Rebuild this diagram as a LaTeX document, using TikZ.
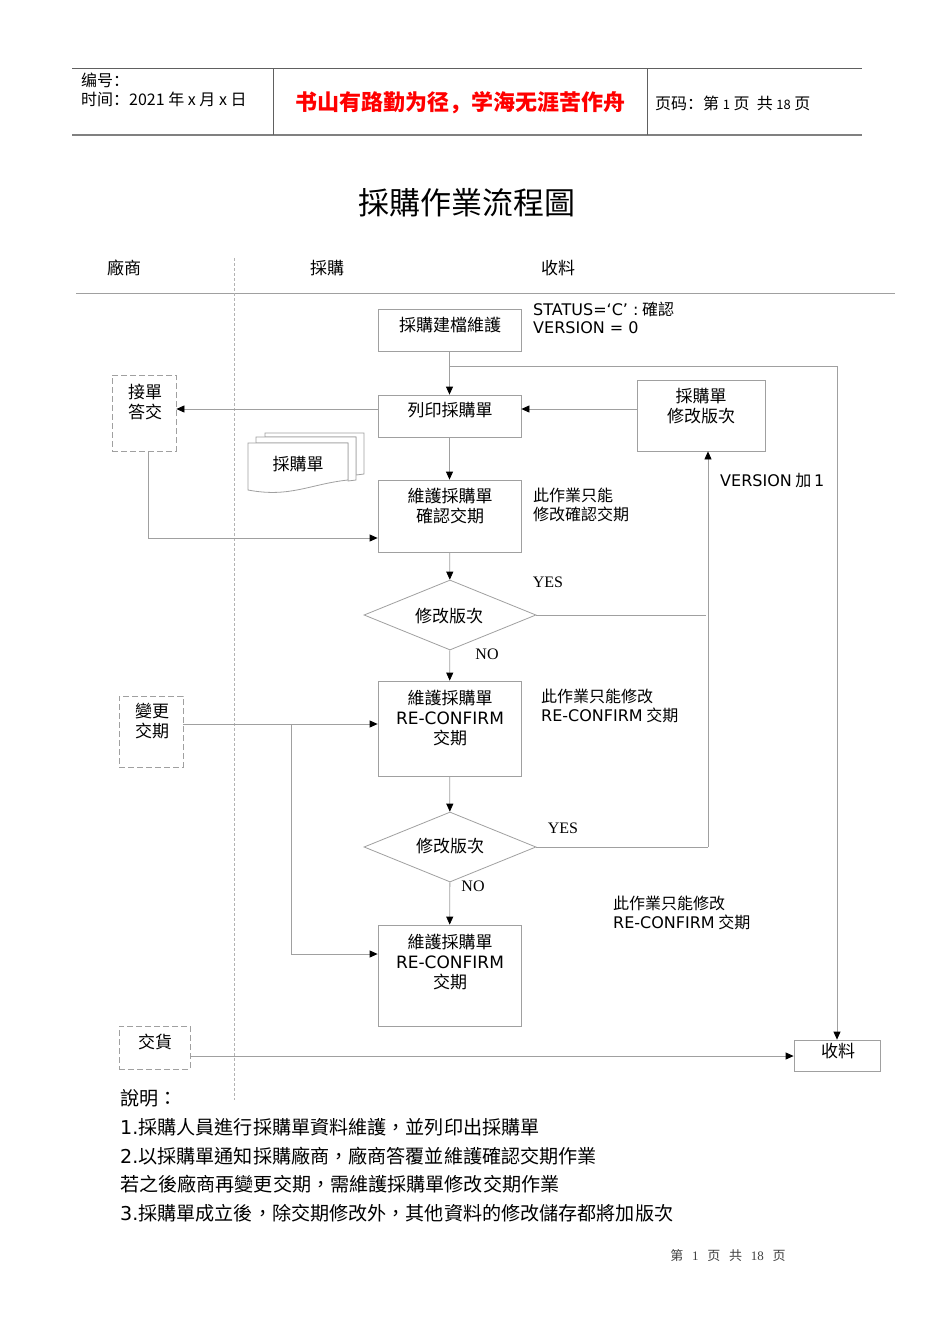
\documentclass[tikz,border=0pt]{standalone}
\usepackage{fontspec}
\setmainfont{Noto Sans CJK TC}
\newfontfamily\dv{DejaVu Sans}
\newfontfamily\scfont{Noto Sans CJK SC}
\newfontfamily\timesf{Liberation Serif}
\usetikzlibrary{arrows.meta,shapes.geometric}
\definecolor{ln}{HTML}{A0A0A0}
\definecolor{hd}{HTML}{606060}
\begin{document}
\begin{tikzpicture}[x=1pt,y=-1pt,
  box/.style={draw=ln,line width=0.8pt,rectangle,inner sep=0pt},
  dbox/.style={box,dashed,dash pattern=on 6pt off 3pt},
  dia/.style={draw=ln,line width=0.8pt,diamond,inner sep=0pt,minimum width=172pt,minimum height=70pt},
  conn/.style={draw=ln,line width=0.8pt},
  arr/.style={conn,-{Triangle[length=8pt,width=7pt,color=black,fill=black]}},
  tx/.style={font=\fontsize{17}{20}\selectfont,align=center,inner sep=0pt},
  nt/.style={font=\fontsize{16}{18.5}\selectfont,align=left,inner sep=0pt,anchor=west},
  yn/.style={font=\timesf\fontsize{16}{18}\selectfont,inner sep=0pt},
  ex/.style={font=\fontsize{19.1}{21}\selectfont,inner sep=0pt,anchor=west}]
\useasboundingbox[fill=white] (0,0) rectangle (950,1344);
% header
\draw[hd,line width=0.8pt] (72,68) -- (862,68);
\draw[hd!80,line width=1.6pt] (72,135) -- (862,135);
\draw[hd,line width=0.8pt] (273,68) -- (273,135);
\draw[hd,line width=0.8pt] (647,68) -- (647,135);
\node[font=\scfont\fontsize{16}{18}\selectfont,anchor=west,inner sep=0pt] (h1) at (81,80) {编号：};
\node[font=\scfont\fontsize{16}{18}\selectfont,anchor=west,inner sep=0pt] (h2) at (81,99) {时间：2021 年 x 月 x 日};
\node[font=\scfont\bfseries\fontsize{22}{24}\selectfont,text=red,inner sep=0pt] (h3) at (460,103) {书山有路勤为径，学海无涯苦作舟};
\node[font=\scfont\fontsize{16}{18}\selectfont,anchor=west,inner sep=0pt] (h4) at (655,103) {页码：第 {\fontsize{13}{15}\selectfont 1} 页\ \ 共 {\fontsize{13}{15}\selectfont 18} 页};
% title
\node[font=\fontsize{31}{34}\selectfont,inner sep=0pt] (title) at (467,203) {採購作業流程圖};
% lanes
\node[tx] (l1) at (124,268) {廠商};
\node[tx] (l2) at (327,268) {採購};
\node[tx] (l3) at (558,268) {收料};
\draw[conn] (76,293) -- (895,293);
\draw[ln!80,line width=0.6pt,dash pattern=on 3pt off 2pt] (234,258) -- (234,1100);
% boxes
\node[box,minimum width=143pt,minimum height=42pt] (b1) at (449.5,330) {};
\node[tx] (b1t) at (450,325) {採購建檔維護};
\node[box,minimum width=143pt,minimum height=42pt] (b2) at (449.5,416) {};
\node[tx] (b2t) at (450,410) {列印採購單};
\node[box,minimum width=143pt,minimum height=72pt] (b3) at (449.5,516) {};
\node[tx] (b3t) at (450,506) {維護採購單\\確認交期};
\node[dia] (d1) at (450,615) {};
\node[tx] (d1t) at (449,616) {修改版次};
\node[box,minimum width=143pt,minimum height=95pt] (b4) at (449.5,728.5) {};
\node[tx] (b4t) at (450,718) {維護採購單\\{\dv RE-CONFIRM}\\交期};
\node[dia] (d2) at (450,847) {};
\node[tx] (d2t) at (450,846) {修改版次};
\node[box,minimum width=143pt,minimum height=101pt] (b5) at (449.5,975.5) {};
\node[tx] (b5t) at (450,962) {維護採購單\\{\dv RE-CONFIRM}\\交期};
\node[dbox,minimum width=64pt,minimum height=76pt] (jd) at (144,413) {};
\node[tx] (jdt) at (145,402) {接單\\答交};
\node[dbox,minimum width=64pt,minimum height=71pt] (bg) at (151,731.5) {};
\node[tx] (bgt) at (152,721) {變更\\交期};
\node[dbox,minimum width=71pt,minimum height=43pt] (jh) at (154.5,1047.5) {};
\node[tx] (jht) at (155,1042) {交貨};
\node[box,minimum width=86pt,minimum height=31pt] (sl) at (837,1055.5) {};
\node[tx] (slt) at (838,1051) {收料};
\node[box,minimum width=128pt,minimum height=71pt] (xg) at (701,415.5) {};
\node[tx] (xgt) at (701,406) {採購單\\修改版次};
% document shape
\draw[ln,line width=0.8pt,fill=white] (265,433) -- (364,433) -- (364,474) -- (356,475) -- (356,437) -- (265,437) -- cycle;
\draw[ln,line width=0.8pt,fill=white] (256,437) -- (356,437) -- (356,480) -- (348,481) -- (348,443) -- (256,443) -- cycle;
\draw[ln,line width=0.8pt,fill=white] (248,443) -- (348,443) -- (348,480) .. controls (310,484) and (290,498) .. (248,490) -- cycle;
\node[tx] (doc) at (298,464) {採購單};
% notes
\node[nt] (n1) at (533,318) {{\dv STATUS=‘C’ :} 確認\\{\dv VERSION = 0}};
\node[nt] (n2) at (533,505) {此作業只能\\修改確認交期};
\node[nt] (n3) at (541,706) {此作業只能修改\\{\dv RE-CONFIRM} 交期};
\node[nt] (n4) at (613,913) {此作業只能修改\\{\dv RE-CONFIRM} 交期};
\node[nt] (n5) at (720,481) {{\dv VERSION} 加\,{\dv 1}};
\node[yn] (y1) at (548,582) {YES};
\node[yn] (no1) at (487,654) {NO};
\node[yn] (y2) at (563,828) {YES};
\node[yn] (no2) at (473,886) {NO};
% connectors
\draw[arr] (b1) -- (b2);
\coordinate (br) at (449.5,366);
\draw[arr] (br) -| (sl.north);
\coordinate (q1) at ([yshift=7pt]b2.west);
\draw[arr] (q1) -- (q1 -| jd.east);
\coordinate (q2) at ([yshift=7pt]b2.east);
\draw[arr] (q2 -| xg.west) -- (q2);
\draw[arr] (b2) -- (b3);
\coordinate (q3) at ([xshift=4pt]jd.south);
\coordinate (q4) at ([yshift=-22pt]b3.west);
\draw[arr] (q3) |- (q4);
\draw[arr] (b3) -- (d1);
\coordinate (v1x) at (706,0);
\draw[conn] (d1.east) -- (d1.east -| v1x);
\draw[arr] (d1) -- (b4);
\coordinate (p1) at ([yshift=4.5pt]b4.west);
\draw[arr] (p1 -| bg.east) -- (p1);
\coordinate (p2) at (291,724);
\coordinate (p3) at ([yshift=21.5pt]b5.west);
\draw[arr] (p2) |- (p3);
\draw[arr] (b4) -- (d2);
\coordinate (v2x) at (708,0);
\coordinate (v2) at (d2.east -| v2x);
\draw[conn] (d2.east) -- (v2);
\draw[arr] (v2) -- (v2 |- xg.south);
\draw[arr] (d2) -- (b5);
\coordinate (p4) at ([yshift=-0.5pt]sl.west);
\draw[arr] (p4 -| jh.east) -- (p4);
% explanation
\node[ex] (e0) at (120,1098) {說明：};
\node[ex] (e1) at (120,1127) {{\dv 1.}採購人員進行採購單資料維護，並列印出採購單};
\node[ex] (e2) at (120,1156) {{\dv 2.}以採購單通知採購廠商，廠商答覆並維護確認交期作業};
\node[ex] (e3) at (120,1184) {若之後廠商再變更交期，需維護採購單修改交期作業};
\node[ex] (e4) at (120,1213) {{\dv 3.}採購單成立後，除交期修改外，其他資料的修改儲存都將加版次};
% footer
\node[font=\scfont\fontsize{13}{15}\selectfont,text=black!75,inner sep=0pt] (ft) at (728,1256) {第\ \ \ {\timesf 1}\ \ \ 页\ \ \ 共\ \ \ {\timesf 18}\ \ \ 页};
\end{tikzpicture}
\end{document}
